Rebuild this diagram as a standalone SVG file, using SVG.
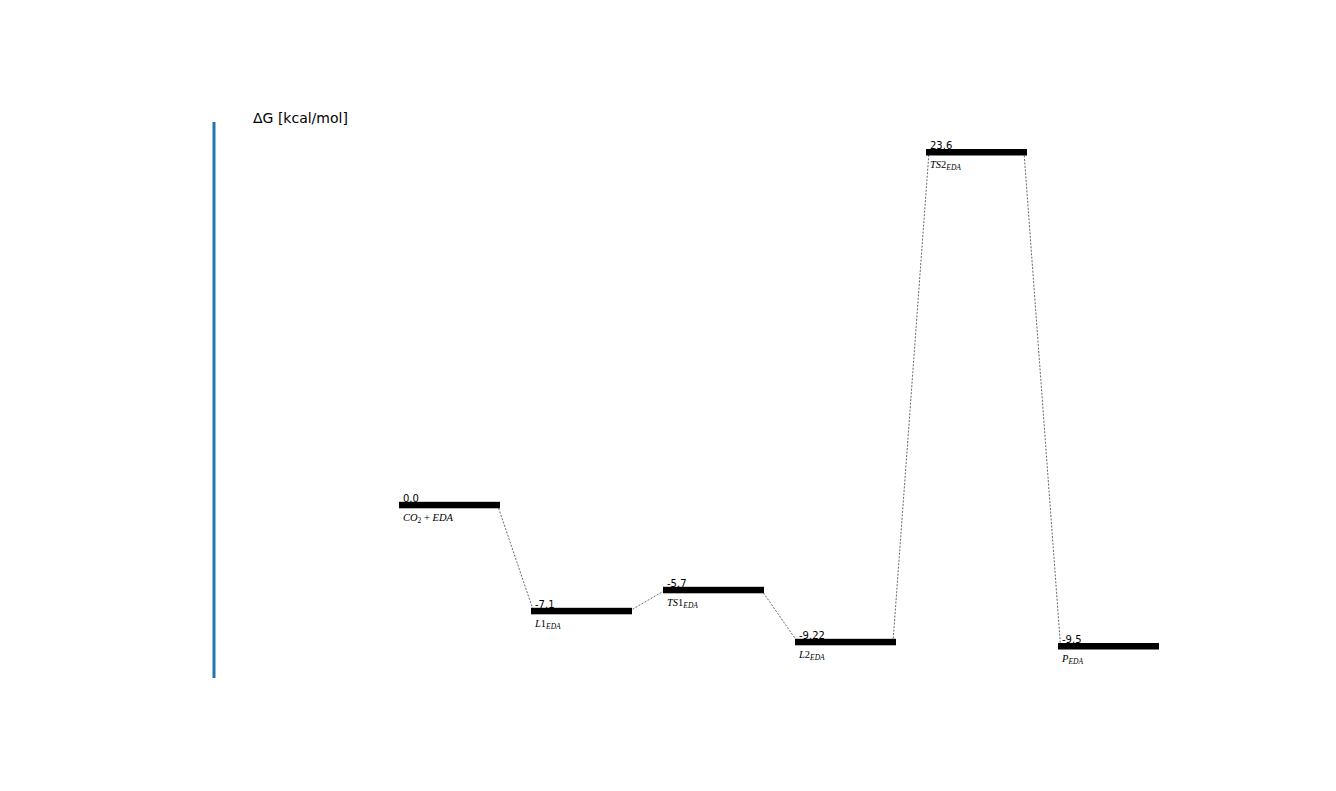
<svg xmlns="http://www.w3.org/2000/svg" width="1336" height="791" viewBox="0 0 1336 791">
<style>
.bar{fill:#000}
.val{font-family:"DejaVu Sans",sans-serif;font-size:10px;fill:#000}
.lab{font-family:"Liberation Serif","DejaVu Serif",serif;font-size:10.5px;font-style:italic;fill:#000}
.sub{font-size:7.5px}
.up{font-style:normal}
.conn{stroke:#000;stroke-width:0.6;stroke-dasharray:2,1.5;fill:none}
</style>
<rect width="1336" height="791" fill="#fff"/>
<g id="axis">
<line x1="214" y1="122" x2="214" y2="678" stroke="#1f77b4" stroke-width="3"/>
<text x="253" y="123" font-family="DejaVu Sans,sans-serif" font-size="14" fill="#000">ΔG [kcal/mol]</text>
</g>
<g id="connectors">
<line class="conn" x1="497.5" y1="505" x2="533.5" y2="611"/>
<line class="conn" x1="629.5" y1="611" x2="665.5" y2="590"/>
<line class="conn" x1="761.5" y1="590" x2="797.5" y2="642"/>
<line class="conn" x1="893" y1="642" x2="929" y2="152"/>
<line class="conn" x1="1024" y1="152" x2="1060.5" y2="646"/>
</g>
<g id="n0">
<rect class="bar" x="399" y="501.8" width="101" height="6.5"/>
<text class="val" x="403" y="502">0.0</text>
<text class="lab" x="403" y="521">CO<tspan class="sub up" dy="2">2</tspan><tspan class="up" dy="-2"> + </tspan>EDA</text>
</g>
<g id="n1">
<rect class="bar" x="531" y="607.8" width="101" height="6.5"/>
<text class="val" x="535" y="608">-7.1</text>
<text class="lab" x="535" y="627">L<tspan class="up">1</tspan><tspan class="sub" dy="2">EDA</tspan></text>
</g>
<g id="n2">
<rect class="bar" x="663" y="586.8" width="101" height="6.5"/>
<text class="val" x="667" y="587">-5.7</text>
<text class="lab" x="667" y="606">TS<tspan class="up">1</tspan><tspan class="sub" dy="2">EDA</tspan></text>
</g>
<g id="n3">
<rect class="bar" x="795" y="638.8" width="101" height="6.5"/>
<text class="val" x="799" y="639">-9.22</text>
<text class="lab" x="799" y="658">L<tspan class="up">2</tspan><tspan class="sub" dy="2">EDA</tspan></text>
</g>
<g id="n4">
<rect class="bar" x="926" y="149" width="101" height="6.5"/>
<text class="val" x="930" y="149">23.6</text>
<text class="lab" x="930" y="168">TS<tspan class="up">2</tspan><tspan class="sub" dy="2">EDA</tspan></text>
</g>
<g id="n5">
<rect class="bar" x="1058" y="643" width="101" height="6.5"/>
<text class="val" x="1062" y="643">-9.5</text>
<text class="lab" x="1062" y="662">P<tspan class="sub" dy="2">EDA</tspan></text>
</g>
</svg>
